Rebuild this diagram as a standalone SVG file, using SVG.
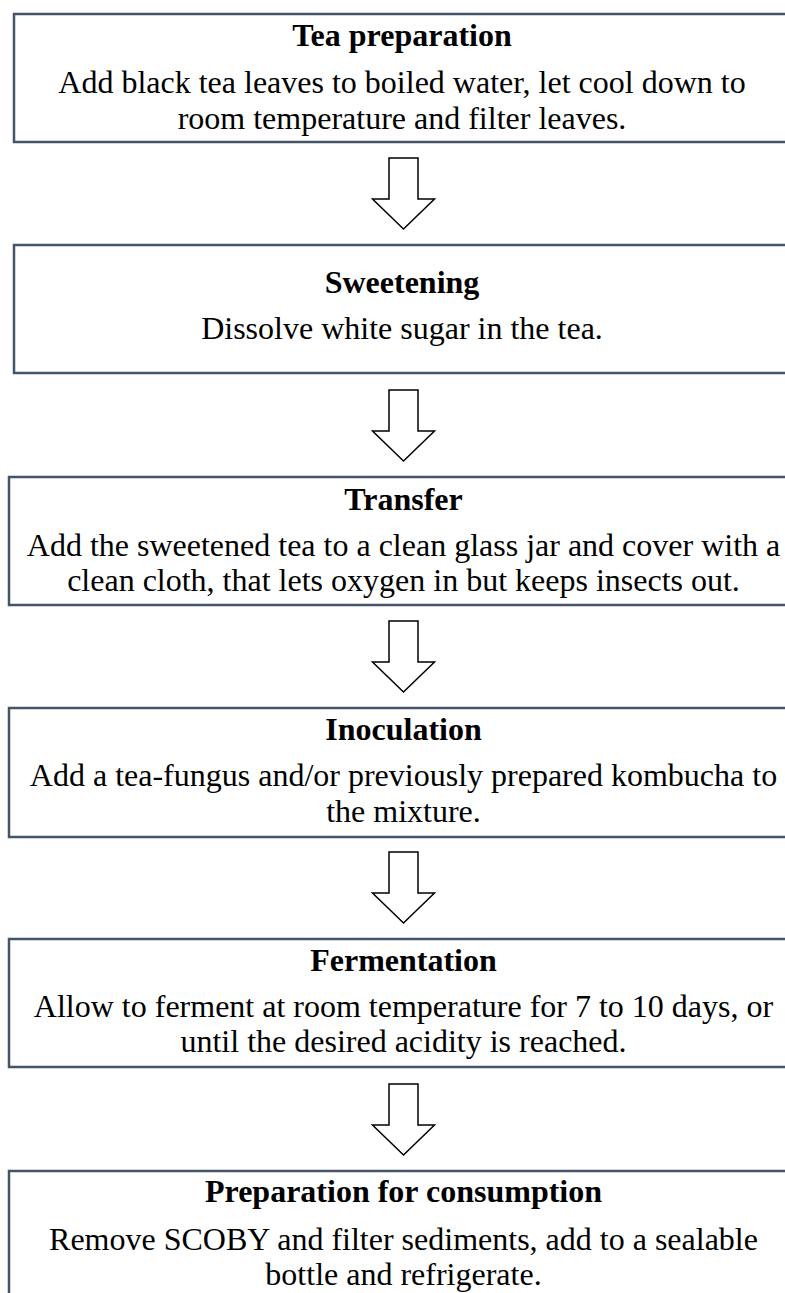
<svg xmlns="http://www.w3.org/2000/svg" width="785" height="1293" viewBox="0 0 785 1293">
<style>
.box{fill:#ffffff;stroke:#44546a;stroke-width:2.5}
.t{font-family:"Liberation Serif","Times New Roman",serif;font-size:32px;font-weight:bold;fill:#000;text-anchor:middle}
.b{font-family:"Liberation Serif","Times New Roman",serif;font-size:32px;fill:#000;text-anchor:middle}
.arr{fill:#ffffff;stroke:#000;stroke-width:1.5;stroke-linejoin:miter}
</style>
<rect width="785" height="1293" fill="#ffffff"/>
<g id="connectors">
<polygon class="arr" points="389,158 418,158 418,199 434.5,199 403.5,229 372.5,199 389,199"/>
<polygon class="arr" points="389,390 418,390 418,431 434.5,431 403.5,461 372.5,431 389,431"/>
<polygon class="arr" points="389,621 418,621 418,662 434.5,662 403.5,692 372.5,662 389,662"/>
<polygon class="arr" points="389,852 418,852 418,893 434.5,893 403.5,923 372.5,893 389,893"/>
<polygon class="arr" points="389,1084 418,1084 418,1125 434.5,1125 403.5,1155 372.5,1125 389,1125"/>
</g>
<g id="node1">
<rect class="box" x="14" y="14" width="800" height="128"/>
<text class="t" x="402" y="46">Tea preparation</text>
<text class="b" x="402" y="92.5">Add black tea leaves to boiled water, let cool down to</text>
<text class="b" x="402" y="128.5">room temperature and filter leaves.</text>
</g>
<g id="node2">
<rect class="box" x="14" y="245" width="800" height="128"/>
<text class="t" x="402" y="293">Sweetening</text>
<text class="b" x="402" y="339">Dissolve white sugar in the tea.</text>
</g>
<g id="node3">
<rect class="box" x="9" y="477" width="800" height="128"/>
<text class="t" x="403.5" y="510">Transfer</text>
<text class="b" x="403.5" y="555.5">Add the sweetened tea to a clean glass jar and cover with a</text>
<text class="b" x="403.5" y="590.5">clean cloth, that lets oxygen in but keeps insects out.</text>
</g>
<g id="node4">
<rect class="box" x="9" y="708" width="800" height="129"/>
<text class="t" x="403.5" y="740">Inoculation</text>
<text class="b" x="403.5" y="786">Add a tea-fungus and/or previously prepared kombucha to</text>
<text class="b" x="403.5" y="821.5">the mixture.</text>
</g>
<g id="node5">
<rect class="box" x="9" y="939" width="800" height="128"/>
<text class="t" x="403.5" y="971">Fermentation</text>
<text class="b" x="403.5" y="1017">Allow to ferment at room temperature for 7 to 10 days, or</text>
<text class="b" x="403.5" y="1051.5">until the desired acidity is reached.</text>
</g>
<g id="node6">
<rect class="box" x="9" y="1171" width="800" height="140"/>
<text class="t" x="403.5" y="1202">Preparation for consumption</text>
<text class="b" x="403.5" y="1249.5">Remove SCOBY and filter sediments, add to a sealable</text>
<text class="b" x="403.5" y="1285">bottle and refrigerate.</text>
</g>
</svg>
